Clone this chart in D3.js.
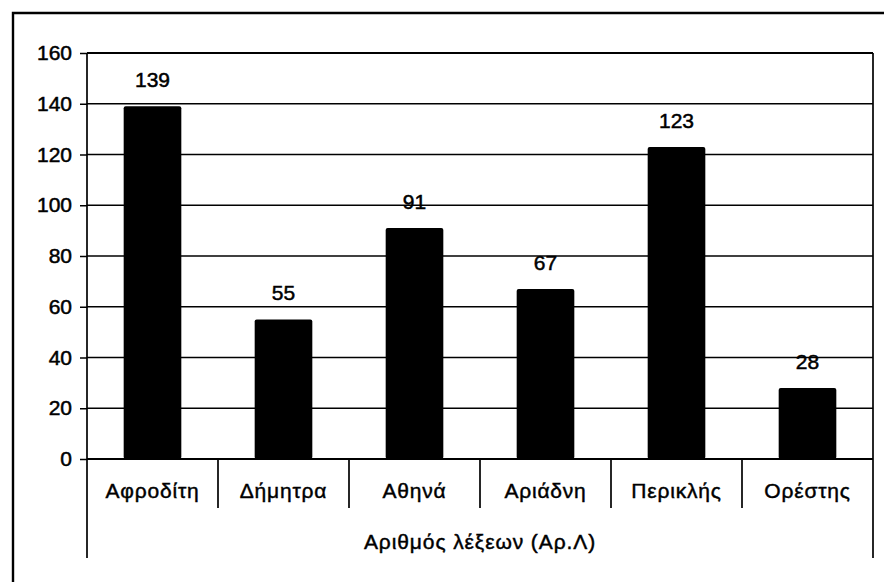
<!DOCTYPE html>
<html>
<head>
<meta charset="utf-8">
<script src="https://cdn.jsdelivr.net/npm/d3@7"></script>
<style>
  html, body { margin: 0; padding: 0; background: #fff; }
  svg { display: block; font-family: "Liberation Sans", Arial, sans-serif; }
</style>
</head>
<body>
<svg id="chart" width="884" height="582"></svg>
<script>
// Word counts per name
const categories = ["Αφροδίτη", "Δήμητρα", "Αθηνά", "Αριάδνη", "Περικλής", "Ορέστης"];
const values = [139, 55, 91, 67, 123, 28];
const yTicks = [0, 20, 40, 60, 80, 100, 120, 140, 160];
const axisTitle = "Αριθμός λέξεων (Αρ.Λ)";

const svg = d3.select("#chart");
const plotLeft = 87, plotRight = 873, plotTop = 53, plotBottom = 459;
const dividerBottom = 508, outerBottom = 558;

// Outer frame (runs off the right and bottom edges)
svg.append("path")
  .attr("d", "M13,600 L13,13 L900,13")
  .attr("fill", "none").attr("stroke", "#000").attr("stroke-width", 2.4);

const x = d3.scaleBand().domain(categories).range([plotLeft, plotRight]).paddingInner(0.56).paddingOuter(0.28);
const band = d3.scaleBand().domain(categories).range([plotLeft, plotRight]);
const y = d3.scaleLinear().domain([0, 160]).range([plotBottom, plotTop]);

// Horizontal gridlines
svg.append("g").selectAll("line").data(yTicks).join("line")
  .attr("x1", plotLeft).attr("x2", plotRight)
  .attr("y1", d => y(d)).attr("y2", d => y(d))
  .attr("stroke", "#000").attr("stroke-width", 1.5);

// Y axis with ticks and labels
const yAxis = svg.append("g").attr("transform", `translate(${plotLeft},0)`)
  .call(d3.axisLeft(y).tickValues(yTicks).tickSize(7).tickPadding(8));
yAxis.select(".domain").remove();
yAxis.selectAll(".tick line").attr("stroke", "#000").attr("stroke-width", 1.5);
yAxis.selectAll(".tick text")
  .attr("font-size", 21).attr("fill", "#000")
  .attr("font-family", "'Liberation Sans', Arial, sans-serif")
  .attr("stroke", "#000").attr("stroke-width", 0.5);

// Bars
svg.append("g").selectAll("rect").data(values).join("rect")
  .attr("x", (d, i) => x(categories[i]))
  .attr("width", x.bandwidth())
  .attr("y", d => y(d))
  .attr("height", d => y(0) - y(d))
  .attr("rx", 2)
  .attr("fill", "#000");

// Value labels
svg.append("g").selectAll("text").data(values).join("text")
  .attr("x", (d, i) => x(categories[i]) + x.bandwidth() / 2)
  .attr("y", d => y(d) - 19)
  .attr("text-anchor", "middle")
  .attr("font-size", 21).attr("fill", "#000")
  .attr("stroke", "#000").attr("stroke-width", 0.5)
  .text(d => d);

// Plot frame: y axis line, right edge, category axis
const frame = svg.append("g").attr("stroke", "#000").attr("stroke-width", 1.7).attr("fill", "none");
frame.append("line").attr("x1", plotLeft).attr("x2", plotLeft).attr("y1", plotTop).attr("y2", outerBottom);
frame.append("line").attr("x1", plotRight).attr("x2", plotRight).attr("y1", plotTop).attr("y2", outerBottom);
frame.append("line").attr("x1", plotLeft).attr("x2", plotRight).attr("y1", plotBottom).attr("y2", plotBottom).attr("stroke-width", 2.2);
frame.append("line").attr("x1", plotLeft).attr("x2", plotRight).attr("y1", plotTop).attr("y2", plotTop).attr("stroke-width", 2);

// Category dividers
frame.selectAll("line.div").data(categories.slice(1)).join("line")
  .attr("class", "div")
  .attr("x1", d => band(d)).attr("x2", d => band(d))
  .attr("y1", plotBottom).attr("y2", dividerBottom);

// Category labels
svg.append("g").selectAll("text").data(categories).join("text")
  .attr("x", d => band(d) + band.bandwidth() / 2)
  .attr("y", 498)
  .attr("text-anchor", "middle")
  .attr("font-size", 21).attr("letter-spacing", 0.8).attr("fill", "#000")
  .attr("stroke", "#000").attr("stroke-width", 0.45)
  .text(d => d);

// Category group title
svg.append("text")
  .attr("x", (plotLeft + plotRight) / 2).attr("y", 549)
  .attr("text-anchor", "middle")
  .attr("font-size", 21).attr("letter-spacing", 0.9).attr("fill", "#000")
  .attr("stroke", "#000").attr("stroke-width", 0.45)
  .text(axisTitle);
</script>
</body>
</html>
